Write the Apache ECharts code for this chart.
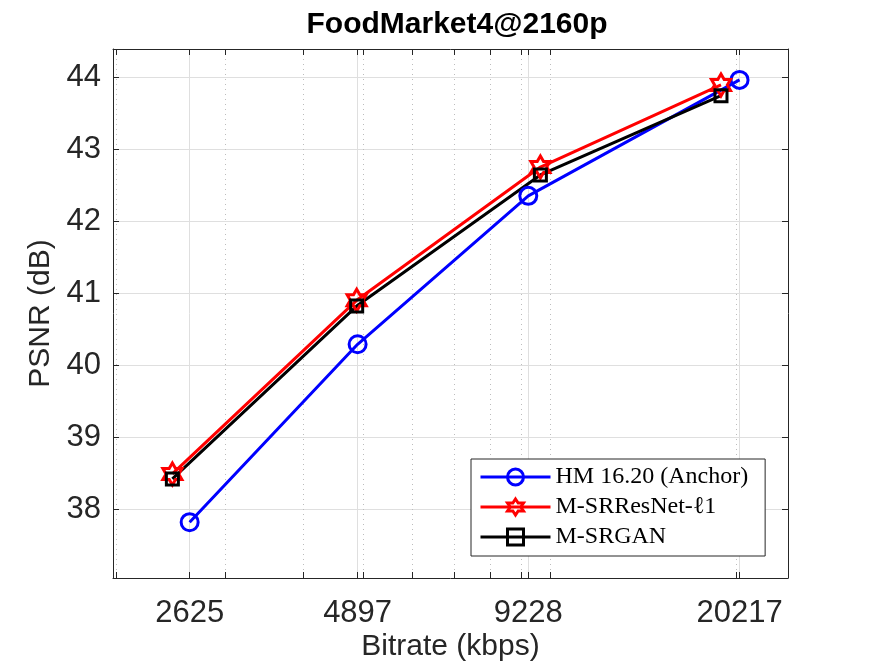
<!DOCTYPE html>
<html><head><meta charset="utf-8">
<script src="https://cdn.jsdelivr.net/npm/echarts@6/dist/echarts.min.js"></script>
<style>html,body{margin:0;padding:0;background:#fff}#c{width:872px;height:669px}</style>
</head><body><div id="c"></div>
<script>
const seriesNames = ['HM 16.20 (Anchor)', 'M-SRResNet-\u21131', 'M-SRGAN'];
const bitrateAnchor = [2625, 4897, 9228, 20217];
const psnrAnchor = [37.82, 40.29, 42.35, 43.96];
const bitrateSRResNet = [2462, 4880, 9652, 18870];
const psnrSRResNet = [38.49, 40.90, 42.75, 43.89];
const bitrateSRGAN = [2462, 4880, 9652, 18870];
const psnrSRGAN = [38.42, 40.82, 42.64, 43.74];
const xTickLabels = [2625, 4897, 9228, 20217];
const xMinorTicks = [2000, 3000, 4000, 5000, 6000, 7000, 8000, 9000, 10000, 20000];
const yTickLabels = [38, 39, 40, 41, 42, 43, 44];

const X_MIN = 1975, X_MAX = 24200, Y_MIN = 37.045, Y_MAX = 44.389;
const AX = '#262626';
const FONT = "'Liberation Sans', Arial, Helvetica, sans-serif";
const hexagram = 'path://M10,0L12.887,5L18.660,5L15.774,10L18.660,15L12.887,15L10,20L7.113,15L1.340,15L4.226,10L1.340,5L7.113,5Z';

const zip = (xs, ys) => xs.map((x, i) => [x, ys[i]]);

const chart = echarts.init(document.getElementById('c'), null, {renderer: 'canvas'});
chart.setOption({
  animation: false,
  backgroundColor: '#fff',
  title: {
    text: 'FoodMarket4@2160p',
    left: 452, top: 5, textAlign: 'center',
    textStyle: {fontFamily: FONT, fontSize: 30, fontWeight: 'bold', color: '#000'}
  },
  grid: {left: 113, right: 84, top: 49, bottom: 91, containLabel: false, outerBoundsMode: 'none'},
  legend: {
    orient: 'vertical', left: 471, top: 459,
    itemWidth: 70, itemHeight: 20, itemGap: 6,
    padding: [6, 17, 7, 8],
    backgroundColor: '#fff', borderColor: AX, borderWidth: 1, borderRadius: 0,
    lineStyle: {width: 3},
    itemStyle: {borderWidth: 3},
    textStyle: {fontFamily: "'Liberation Serif', 'Times New Roman', serif", fontSize: 24, color: '#000'},
    data: seriesNames
  },
  xAxis: [
    {
      type: 'log', logBase: 10, min: X_MIN, max: X_MAX, position: 'bottom',
      name: 'Bitrate (kbps)', nameLocation: 'middle', nameGap: 54, nameMoveOverlap: false,
      nameTextStyle: {fontFamily: FONT, fontSize: 30, color: AX},
      axisLine: {show: true, onZero: false, lineStyle: {color: AX, width: 1}},
      axisTick: {show: true, inside: true, length: 6, customValues: xTickLabels, lineStyle: {color: AX}},
      axisLabel: {show: true, customValues: xTickLabels, margin: 20, fontFamily: FONT, fontSize: 31, color: AX,
        formatter: v => String(Math.round(v))},
      splitLine: {show: true, lineStyle: {color: '#dfdfdf', width: 1, type: 'solid'}},
      minorTick: {show: false}, minorSplitLine: {show: false}
    },
    {
      type: 'log', logBase: 10, min: X_MIN, max: X_MAX, position: 'bottom',
      axisLine: {show: false},
      axisTick: {show: true, inside: true, length: 6, customValues: xMinorTicks, lineStyle: {color: AX}},
      axisLabel: {show: false},
      splitLine: {show: true, lineStyle: {color: '#bdbdbd', width: 1, type: [1, 4]}}
    },
    {
      type: 'log', logBase: 10, min: X_MIN, max: X_MAX, position: 'top',
      axisLine: {show: true, onZero: false, lineStyle: {color: AX, width: 1}},
      axisTick: {show: true, inside: true, length: 6, customValues: xTickLabels.concat(xMinorTicks), lineStyle: {color: AX}},
      axisLabel: {show: false},
      splitLine: {show: false}
    }
  ],
  yAxis: [
    {
      type: 'value', min: Y_MIN, max: Y_MAX, position: 'left',
      name: 'PSNR (dB)', nameLocation: 'middle', nameGap: 57, nameMoveOverlap: false,
      nameTextStyle: {fontFamily: FONT, fontSize: 30, color: AX},
      axisLine: {show: true, onZero: false, lineStyle: {color: AX, width: 1}},
      axisTick: {show: true, inside: true, length: 6, customValues: yTickLabels, lineStyle: {color: AX}},
      axisLabel: {show: true, customValues: yTickLabels, margin: 12, fontFamily: FONT, fontSize: 31, color: AX,
        formatter: v => String(Math.round(v))},
      splitLine: {show: true, lineStyle: {color: '#dfdfdf', width: 1, type: 'solid'}}
    },
    {
      type: 'value', min: Y_MIN, max: Y_MAX, position: 'right',
      axisLine: {show: true, onZero: false, lineStyle: {color: AX, width: 1}},
      axisTick: {show: true, inside: true, length: 6, customValues: yTickLabels, lineStyle: {color: AX}},
      axisLabel: {show: false},
      splitLine: {show: false}
    }
  ],
  series: [
    {
      name: seriesNames[0], type: 'line', xAxisIndex: 0, yAxisIndex: 0,
      data: zip(bitrateAnchor, psnrAnchor),
      symbol: 'circle', symbolSize: 17,
      lineStyle: {color: '#0000ff', width: 3},
      itemStyle: {color: 'rgba(0,0,0,0)', borderColor: '#0000ff', borderWidth: 3},
      emphasis: {disabled: true}
    },
    {
      name: seriesNames[1], type: 'line', xAxisIndex: 0, yAxisIndex: 0,
      data: zip(bitrateSRResNet, psnrSRResNet),
      symbol: hexagram, symbolSize: 22, symbolKeepAspect: true,
      lineStyle: {color: '#ff0000', width: 3},
      itemStyle: {color: 'rgba(0,0,0,0)', borderColor: '#ff0000', borderWidth: 3},
      emphasis: {disabled: true}
    },
    {
      name: seriesNames[2], type: 'line', xAxisIndex: 0, yAxisIndex: 0,
      data: zip(bitrateSRGAN, psnrSRGAN),
      symbol: 'rect', symbolSize: 12,
      lineStyle: {color: '#000000', width: 3},
      itemStyle: {color: 'rgba(0,0,0,0)', borderColor: '#000000', borderWidth: 3},
      emphasis: {disabled: true}
    }
  ]
});
</script></body></html>
